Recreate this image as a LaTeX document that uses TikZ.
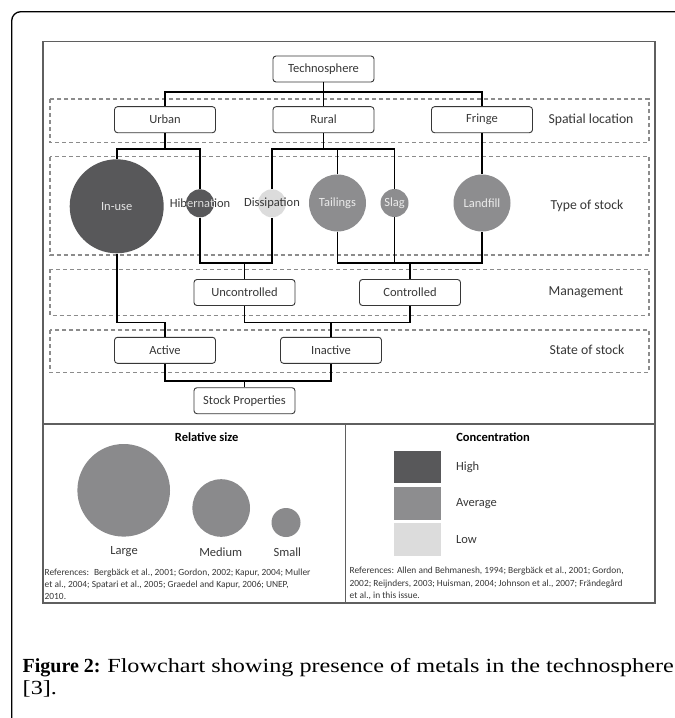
\documentclass[tikz,border=0pt]{standalone}
\usepackage{fontspec}
\usepackage{tikz}
\usetikzlibrary{
    positioning
}
\newfontfamily\chartfont{Carlito}
\newfontfamily\capfont{Liberation Serif}
\newfontfamily\capwide{Liberation Serif}[FakeStretch=1.21]
\definecolor{stockDark}{RGB}{88, 88, 90}
\definecolor{stockMid}{RGB}{141, 141, 143}
\definecolor{stockLight}{RGB}{220, 220, 220}
\definecolor{sizeGray}{RGB}{138, 138, 140}
\definecolor{lineGray}{RGB}{140, 140, 140}
\definecolor{textGray}{RGB}{55, 55, 55}
\definecolor{frameGray}{RGB}{95, 95, 95}

\begin{document}
\begin{tikzpicture}[x=1bp, y=-1bp,
    box/.style={draw=textGray, line width=0.9bp, rounded corners=3bp, fill=white,
        minimum width=101bp, minimum height=26bp, inner sep=0pt, text=textGray,
        font=\chartfont\fontsize{12.5bp}{14bp}\selectfont},
    stock/.style={circle, inner sep=0pt},
    stocktxt/.style={inner sep=0pt, font=\chartfont\fontsize{12.5bp}{14bp}\selectfont},
    band/.style={draw=lineGray, line width=1.1bp, dash pattern=on 4bp off 3bp},
    bandtxt/.style={text=textGray, font=\chartfont\fontsize{13.7bp}{16bp}\selectfont},
    link/.style={line width=1.9bp},
    frame/.style={draw=frameGray, line width=1.3bp},
    legendtitle/.style={inner sep=0pt, font=\chartfont\bfseries\fontsize{12.5bp}{14bp}\selectfont},
    legendtxt/.style={inner sep=0pt, text=textGray, font=\chartfont\fontsize{12.5bp}{14bp}\selectfont},
    reftxt/.style={inner sep=0pt, anchor=west, align=left, text=textGray,
        font=\chartfont\fontsize{9.4bp}{12.2bp}\selectfont},
    captxt/.style={inner sep=0pt, anchor=base west, font=\capfont\fontsize{20bp}{22bp}\selectfont}
]
    \path[use as bounding box, fill=white] (0,0) rectangle (675,718);
    \draw[line width=1.3bp, rounded corners=9bp] (675,11.7) -- (11.7,11.7) -- (11.7,718);

    % frame and bands
    \draw[frame] (43,41.7) rectangle (655,603);
    \draw[frame] (43,424) -- (655,424) (345.5,424) -- (345.5,603);
    \draw[band] (50,99) rectangle (649,142.7);
    \draw[band] (50,156.7) rectangle (649,255);
    \draw[band] (50,269.3) rectangle (649,315.7);
    \draw[band] (50,330) rectangle (649,372.7);

    \node[bandtxt] (lspatial) at (591,120) {Spatial location};
    \node[bandtxt] (ltype) at (587,205.7) {Type of stock};
    \node[bandtxt] (lmanage) at (586,292.5) {Management};
    \node[bandtxt] (lstate) at (587,350) {State of stock};

    % bus levels
    \coordinate (bus0) at (0,91.7);
    \coordinate (bus1) at (0,149);
    \coordinate (bus2) at (0,262.7);
    \coordinate (bus3) at (0,322.5);
    \coordinate (bus4) at (0,381);

    % boxes
    \node[box] (techno) at (323.5,69) {Technosphere};
    \node[box] (urban) at (165,119.7) {Urban};
    \node[box] (rural) at (323.5,119.7) {Rural};
    \node[box] (fringe) at (482,119.7) {Fringe};
    \node[box] (uncont) at (244.5,292.5) {Uncontrolled};
    \node[box] (cont) at (410,292.5) {Controlled};
    \node[box] (active) at (165,350.3) {Active};
    \node[box] (inactive) at (331,350.3) {Inactive};
    \node[box] (props) at (244.5,400.7) {Stock Properties};

    % stocks
    \node[stock, fill=stockDark, minimum size=94bp] (inuse) at (116.7,206.3) {};
    \node[stock, fill=stockDark, minimum size=28bp] (hib) at (200,203.3) {};
    \node[stock, fill=stockLight, minimum size=28bp] (diss) at (272,203.3) {};
    \node[stock, fill=stockMid, minimum size=57bp] (tail) at (337.5,203) {};
    \node[stock, fill=stockMid, minimum size=28bp] (slag) at (394.5,203) {};
    \node[stock, fill=stockMid, minimum size=57bp] (landfill) at (482,203) {};

    \node[stocktxt, text=white!90!black] (inusetxt) at (inuse) {In-use};
    \node[stocktxt, text=textGray] (hibtxt) at (hib) {Hibernation};
    \begin{scope}
        \clip (hib.center) circle[radius=14bp];
        \node[stocktxt, text=white!90!black] (hibtxtw) at (hib) {Hibernation};
    \end{scope}
    \node[stocktxt, text=textGray] (disstxt) at (diss) {Dissipation};
    \node[stocktxt, text=white!92!black] (tailtxt) at (tail) {Tailings};
    \node[stocktxt, text=white!92!black] (slagtxt) at (slag) {Slag};
    \node[stocktxt, text=white!92!black] (landfilltxt) at (landfill) {Landfill};

    % links
    \draw[link] (urban.north) |- (fringe.north |- bus0) -- (fringe.north);
    \draw[link] (techno.south) -- (rural.north);
    \draw[link] (urban.south) -- (urban.south |- bus1);
    \draw[link] (inuse.north) |- (hib.north |- bus1) -- (hib.north);
    \draw[link] (rural.south) -- (rural.south |- bus1);
    \draw[link] (diss.north) |- (slag.north |- bus1) -- (slag.north);
    \draw[link] (tail.north) -- (tail.north |- bus1);
    \draw[link] (fringe.south) -- (landfill.north);
    \draw[link] (hib.south) |- (diss.south |- bus2) -- (diss.south);
    \draw[link] (uncont.north) -- (uncont.north |- bus2);
    \draw[link] (tail.south) |- (landfill.south |- bus2) -- (landfill.south);
    \draw[link] (slag.south) -- (slag.south |- bus2);
    \draw[link] (cont.north) -- (cont.north |- bus2);
    \draw[link] (inuse.south) |- (active.north |- bus3) -- (active.north);
    \draw[link] (uncont.south) |- (cont.south |- bus3) -- (cont.south);
    \draw[link] (inactive.north) -- (inactive.north |- bus3);
    \draw[link] (active.south) |- (inactive.south |- bus4) -- (inactive.south);
    \draw[link] (props.north) -- (props.north |- bus4);

    % legend: relative size
    \node[legendtitle] (sizetitle) at (206.7,436.7) {Relative size};
    \node[stock, fill=sizeGray, minimum size=92.6bp] (large) at (123.7,490.3) {};
    \node[stock, fill=sizeGray, minimum size=57.6bp] (medium) at (221.2,508) {};
    \node[stock, fill=sizeGray, minimum size=29bp] (small) at (286,522.5) {};
    \node[legendtxt] (largetxt) at (124,551.7) {Large};
    \node[legendtxt] (mediumtxt) at (220.7,551.7) {Medium};
    \node[legendtxt] (smalltxt) at (287.3,551.7) {Small};
    \node[reftxt] (sizerefs) at (44.5,584) {References:~ Bergbäck et al., 2001; Gordon, 2002; Kapur, 2004; Muller\\
        et al., 2004; Spatari et al., 2005; Graedel and Kapur, 2006; UNEP,\\ 2010.};

    % legend: concentration
    \node[legendtitle] (conctitle) at (493,436.7) {Concentration};
    \node[fill=stockDark, minimum width=46.4bp, minimum height=32.6bp, inner sep=0pt] (high) at (417.5,467) {};
    \node[fill=stockMid, minimum width=46.4bp, minimum height=32.6bp, inner sep=0pt] (avg) at (417.5,503.3) {};
    \node[fill=stockLight, minimum width=46.4bp, minimum height=32.6bp, inner sep=0pt] (low) at (417.5,539.2) {};
    \node[legendtxt, right=15bp of high] (hightxt) {High};
    \node[legendtxt, right=15bp of avg] (avgtxt) {Average};
    \node[legendtxt, right=15bp of low] (lowtxt) {Low};
    \node[reftxt] (concrefs) at (349.5,583.5) {References: Allen and Behmanesh, 1994; Bergbäck et al., 2001; Gordon,\\
        2002; Reijnders, 2003; Huisman, 2004; Johnson et al., 2007; Frändegård\\ et al., in this issue.};

    % caption
    \node[captxt] (caption) at (22.5,672) {\textbf{Figure 2:} {\capwide Flowchart showing presence of metals in the technosphere}};
    \node[captxt] (capref) at (22.5,694) {\capwide [3].};
\end{tikzpicture}
\end{document}
